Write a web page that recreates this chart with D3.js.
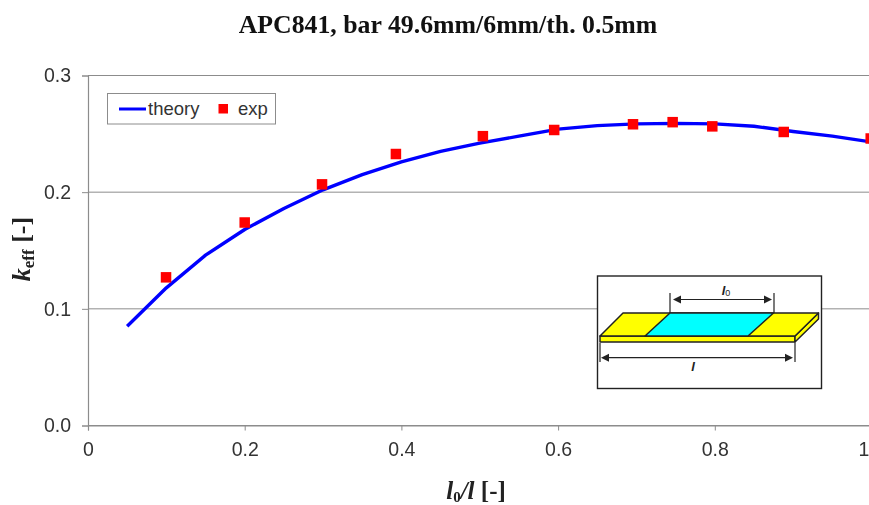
<!DOCTYPE html>
<html>
<head>
<meta charset="utf-8">
<script src="https://cdn.jsdelivr.net/npm/d3@7"></script>
<style>
html, body { margin: 0; padding: 0; background: #fff; overflow: hidden; }
svg { display: block; filter: blur(0.45px); }
</style>
</head>
<body>
<div id="chart"></div>
<script>
var w = 869;
var h = 505;

// theory curve
var theoryX = [0.05, 0.1, 0.15, 0.2, 0.25, 0.3, 0.35, 0.4, 0.45, 0.5, 0.55, 0.6, 0.65, 0.7, 0.75, 0.8, 0.85, 0.9, 0.95, 1.0];
var theoryY = [0.085, 0.118, 0.146, 0.168, 0.186, 0.202, 0.215, 0.226, 0.235, 0.242, 0.248, 0.254, 0.257, 0.2585, 0.259, 0.2585, 0.2565, 0.252, 0.248, 0.243];

// measured points
var expX = [0.0996, 0.2, 0.2987, 0.393, 0.504, 0.595, 0.6956, 0.7462, 0.7968, 0.888, 0.999];
var expY = [0.127, 0.174, 0.2067, 0.2327, 0.248, 0.2533, 0.2582, 0.26, 0.2564, 0.2516, 0.246];

var xTicks = [0, 0.2, 0.4, 0.6, 0.8, 1];
var yTicks = [0, 0.1, 0.2, 0.3];

var axisGrey = '#8c8c8c';
var textGrey = '#333';
var serif = '"Liberation Serif", serif';
var sans = '"Liberation Sans", sans-serif';

var svg = d3.select('#chart').append('svg')
    .attr('width', w)
    .attr('height', h);

var x = d3.scaleLinear().domain([0, 1]).range([88, 871.5]);
var y = d3.scaleLinear().domain([0, 0.3]).range([425.5, 75.5]);

// gridlines first, they sit behind the curve
svg.selectAll('.grid')
    .data(yTicks)
    .enter().append('line')
    .attr('class', 'grid')
    .attr('x1', x(0))
    .attr('x2', x(1))
    .attr('y1', function (d) { return y(d); })
    .attr('y2', function (d) { return y(d); })
    .attr('stroke', axisGrey)
    .attr('stroke-width', 1);

var xAxis = svg.append('g')
    .attr('transform', 'translate(0,' + y(0) + ')')
    .call(d3.axisBottom(x).tickValues(xTicks).tickSize(5).tickPadding(12)
        .tickFormat(function (d) { return d === 0 ? '0' : d3.format('.1f')(d); }));

var yAxis = svg.append('g')
    .attr('transform', 'translate(' + x(0) + ',0)')
    .call(d3.axisLeft(y).tickValues(yTicks).tickSize(6).tickPadding(11)
        .tickFormat(d3.format('.1f')));

[xAxis, yAxis].forEach(function (a) {
    a.select('.domain').attr('stroke', axisGrey).attr('stroke-width', 1.2);
    a.selectAll('.tick line').attr('stroke', axisGrey).attr('stroke-width', 1);
    a.selectAll('.tick text')
        .attr('fill', textGrey)
        .style('font-family', sans)
        .style('font-size', '19.5px');
});

var line = d3.line()
    .x(function (d) { return x(d); })
    .y(function (d, i) { return y(theoryY[i]); });

svg.append('path')
    .attr('d', line(theoryX))
    .attr('fill', 'none')
    .attr('stroke', '#0000ff')
    .attr('stroke-width', 3.4)
    .attr('stroke-linejoin', 'round');

var sq = 10.5;
svg.selectAll('.exp')
    .data(expX)
    .enter().append('rect')
    .attr('class', 'exp')
    .attr('x', function (d) { return x(d) - sq / 2; })
    .attr('y', function (d, i) { return y(expY[i]) - sq / 2; })
    .attr('width', sq)
    .attr('height', sq)
    .attr('fill', '#ff0000');

// title
svg.append('text')
    .attr('x', 448)
    .attr('y', 33)
    .attr('text-anchor', 'middle')
    .style('font-family', serif)
    .style('font-weight', 'bold')
    .style('font-size', '25.8px')
    .attr('fill', '#111')
    .text('APC841, bar 49.6mm/6mm/th. 0.5mm');

// x axis title
var xTitle = svg.append('text')
    .attr('x', 476)
    .attr('y', 499)
    .attr('text-anchor', 'middle')
    .style('font-family', serif)
    .style('font-weight', 'bold')
    .style('font-size', '25px')
    .attr('fill', '#222');
xTitle.append('tspan').style('font-style', 'italic').text('l');
xTitle.append('tspan').attr('dy', 3).style('font-size', '15px').text('0');
xTitle.append('tspan').attr('dy', -3).style('font-style', 'italic').text('/l');
xTitle.append('tspan').text(' [-]');

// y axis title
var yTitle = svg.append('text')
    .attr('transform', 'translate(30,249) rotate(-90)')
    .attr('text-anchor', 'middle')
    .style('font-family', serif)
    .style('font-weight', 'bold')
    .style('font-size', '26px')
    .attr('fill', '#222');
yTitle.append('tspan').style('font-style', 'italic').text('k');
yTitle.append('tspan').attr('dy', 4).style('font-size', '17px').text('eff');
yTitle.append('tspan').attr('dy', -4).text(' [-]');

// legend
var legend = svg.append('g');
legend.append('rect')
    .attr('x', 107.5).attr('y', 93.5)
    .attr('width', 168).attr('height', 30.5)
    .attr('fill', '#fff')
    .attr('stroke', axisGrey);
legend.append('line')
    .attr('x1', 119).attr('x2', 146)
    .attr('y1', 109).attr('y2', 109)
    .attr('stroke', '#0000ff')
    .attr('stroke-width', 3);
legend.append('text')
    .attr('x', 148).attr('y', 115)
    .style('font-family', sans).style('font-size', '18.5px')
    .attr('fill', textGrey)
    .text('theory');
legend.append('rect')
    .attr('x', 218.5).attr('y', 104)
    .attr('width', 9.5).attr('height', 9.5)
    .attr('fill', '#ff0000');
legend.append('text')
    .attr('x', 238).attr('y', 115)
    .style('font-family', sans).style('font-size', '18.5px')
    .attr('fill', textGrey)
    .text('exp');

// inset sketch of the bar
var inset = svg.append('g');
inset.append('rect')
    .attr('x', 597.5).attr('y', 276)
    .attr('width', 224).attr('height', 112.5)
    .attr('fill', '#fff')
    .attr('stroke', '#222')
    .attr('stroke-width', 1.4);

function poly(points, fill) {
    inset.append('polygon')
        .attr('points', points)
        .attr('fill', fill)
        .attr('stroke', '#222')
        .attr('stroke-width', 1.5)
        .attr('stroke-linejoin', 'round');
}
function seg(x1, y1, x2, y2, sw) {
    inset.append('line')
        .attr('x1', x1).attr('y1', y1)
        .attr('x2', x2).attr('y2', y2)
        .attr('stroke', '#222')
        .attr('stroke-width', sw);
}
function arrow(x1, x2, yy) {
    seg(x1 + 5, yy, x2 - 5, yy, 1.2);
    inset.append('polygon')
        .attr('points', x1 + ',' + yy + ' ' + (x1 + 8) + ',' + (yy - 4) + ' ' + (x1 + 8) + ',' + (yy + 4))
        .attr('fill', '#222');
    inset.append('polygon')
        .attr('points', x2 + ',' + yy + ' ' + (x2 - 8) + ',' + (yy - 4) + ' ' + (x2 - 8) + ',' + (yy + 4))
        .attr('fill', '#222');
}

poly('600,336 795,336 795,342 600,342', '#ffff00');
poly('795,336 818.5,313 818.5,319 795,342', '#ffff00');
poly('600,336 623,313 818.5,313 795,336', '#ffff00');
poly('645,336 670,313 773.5,313 748,336', '#00ffff');

seg(670, 293, 670, 313, 1.2);
seg(774, 293, 774, 313, 1.2);
arrow(673, 772, 299.5);
seg(600, 343, 600, 362, 1.2);
seg(795, 343, 795, 362, 1.2);
arrow(601, 793, 357.7);

var l0 = inset.append('text')
    .attr('x', 726).attr('y', 295)
    .attr('text-anchor', 'middle')
    .style('font-family', sans).style('font-size', '13px')
    .attr('fill', '#222');
l0.append('tspan').style('font-style', 'italic').style('font-weight', 'bold').text('l');
l0.append('tspan').attr('dy', 1).style('font-size', '9px').text('0');

inset.append('text')
    .attr('x', 693).attr('y', 371)
    .attr('text-anchor', 'middle')
    .style('font-family', sans).style('font-size', '13px')
    .style('font-style', 'italic').style('font-weight', 'bold')
    .attr('fill', '#222')
    .text('l');
</script>
</body>
</html>
